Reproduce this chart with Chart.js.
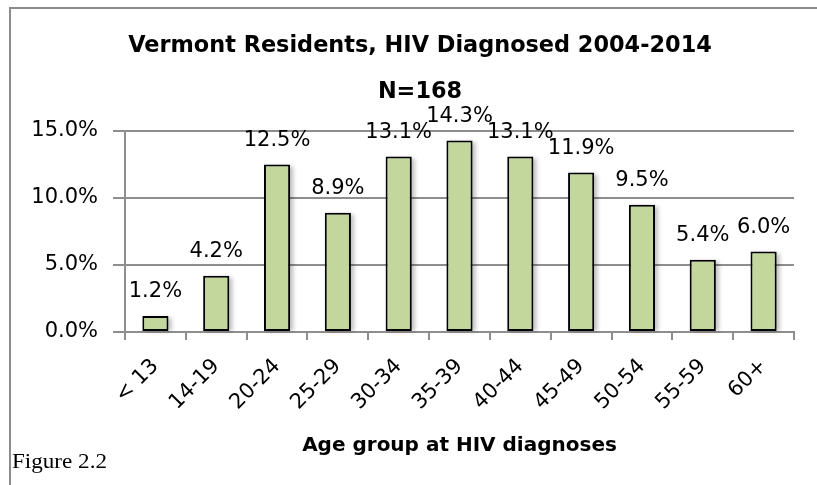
<!DOCTYPE html>
<html>
<head>
<meta charset="utf-8">
<script src="https://cdn.jsdelivr.net/npm/chart.js@4.4.1/dist/chart.umd.min.js"></script>
<style>
  body { margin: 0; background: #fff; overflow: hidden; }
  #wrap { position: relative; width: 817px; height: 485px; }
  #fig {
    position: absolute; left: 12px; top: 451px;
    font: 21px "Liberation Serif", "Times New Roman", serif; line-height: 21px;
    transform: scaleX(1.1); transform-origin: left;
  }
</style>
</head>
<body>
<div id="wrap">
  <canvas id="myChart"></canvas>
  <div id="fig">Figure 2.2</div>
</div>
<script>
// data
var ageGroups = ['< 13', '14-19', '20-24', '25-29', '30-34', '35-39', '40-44', '45-49', '50-54', '55-59', '60+'];
var percents = [1.2, 4.2, 12.5, 8.9, 13.1, 14.3, 13.1, 11.9, 9.5, 5.4, 6.0];
var yTicks = [0, 5, 10, 15];
var titleLines = ['Vermont Residents, HIV Diagnosed 2004-2014', 'N=168'];

var gridGray = '#8e8e8e';
var font = 'DejaVu Sans';

// outer frame of the figure box (top and left edges only, the rest is cropped)
var framePlugin = {
  id: 'frame',
  beforeDraw: function(chart) {
    var ctx = chart.ctx;
    ctx.save();
    ctx.strokeStyle = '#8c8c8c';
    ctx.lineWidth = 2;
    ctx.beginPath();
    ctx.moveTo(10, chart.height + 10);
    ctx.lineTo(10, 8);
    ctx.lineTo(chart.width + 10, 8);
    ctx.stroke();
    ctx.restore();
  }
};

// chart title, centred on the figure box rather than the canvas
var titlePlugin = {
  id: 'figTitle',
  afterDraw: function(chart) {
    var ctx = chart.ctx;
    ctx.save();
    ctx.font = 'bold 22.4px "' + font + '"';
    ctx.fillStyle = '#000';
    ctx.textAlign = 'center';
    ctx.textBaseline = 'middle';
    titleLines.forEach(function(line, i) {
      ctx.fillText(line, 420, 46 + i * 46);
    });
    ctx.restore();
  }
};

// soft shadow to the lower right of each bar
var shadowPlugin = {
  id: 'barShadow',
  beforeDatasetsDraw: function(chart) {
    var ctx = chart.ctx;
    var meta = chart.getDatasetMeta(0);
    ctx.save();
    ctx.filter = 'blur(2px)';
    ctx.fillStyle = 'rgba(0,0,0,0.25)';
    meta.data.forEach(function(bar) {
      var p = bar.getProps(['x', 'y', 'base', 'width'], true);
      ctx.fillRect(p.x - p.width / 2 + 3, p.y + 2, p.width, p.base - p.y - 2);
    });
    ctx.restore();
  }
};

// value labels above the bars
var labelPlugin = {
  id: 'valueLabels',
  afterDatasetsDraw: function(chart) {
    var ctx = chart.ctx;
    var meta = chart.getDatasetMeta(0);
    ctx.save();
    ctx.font = '21px "' + font + '"';
    ctx.fillStyle = '#000';
    ctx.textAlign = 'center';
    ctx.textBaseline = 'middle';
    meta.data.forEach(function(bar, i) {
      ctx.fillText(percents[i].toFixed(1) + '%', bar.x, bar.y - 24);
    });
    ctx.restore();
  }
};

var ctx = document.getElementById('myChart').getContext('2d');
var myChart = new Chart(ctx, {
  type: 'bar',
  data: {
    labels: ageGroups,
    datasets: [{
      data: percents,
      backgroundColor: '#c3d69b',
      borderColor: '#000',
      borderWidth: 2,
      borderSkipped: false,
      categoryPercentage: 1,
      barPercentage: 0.43
    }]
  },
  options: {
    responsive: true,
    maintainAspectRatio: false,
    animation: false,
    layout: { padding: { left: 12, right: 23, top: 131, bottom: 0 } },
    plugins: {
      legend: { display: false },
      tooltip: { enabled: false },
      title: { display: false }
    },
    scales: {
      x: {
        grid: {
          display: true,
          drawOnChartArea: false,
          drawTicks: true,
          tickLength: 8,
          color: gridGray,
          lineWidth: 2
        },
        border: { display: true, color: gridGray, width: 2 },
        ticks: {
          color: '#000',
          font: { family: font, size: 21 },
          minRotation: 45,
          maxRotation: 45,
          padding: 14
        },
        title: {
          display: true,
          text: 'Age group at HIV diagnoses',
          color: '#000',
          font: { family: font, size: 20, weight: 'bold' },
          padding: { top: 0, bottom: 27 }
        },
        afterFit: function(scale) { scale.height = 153; }
      },
      y: {
        min: 0,
        max: 15,
        afterBuildTicks: function(axis) {
          axis.ticks = yTicks.map(function(v) { return { value: v }; });
        },
        grid: {
          color: gridGray,
          lineWidth: 2,
          tickLength: 12
        },
        border: { display: true, color: gridGray, width: 2 },
        ticks: {
          color: '#000',
          font: { family: font, size: 21 },
          padding: 15,
          callback: function(v) { return v.toFixed(1) + '%'; }
        },
        afterFit: function(scale) { scale.width = 113; }
      }
    }
  },
  plugins: [framePlugin, titlePlugin, shadowPlugin, labelPlugin]
});
</script>
</body>
</html>
